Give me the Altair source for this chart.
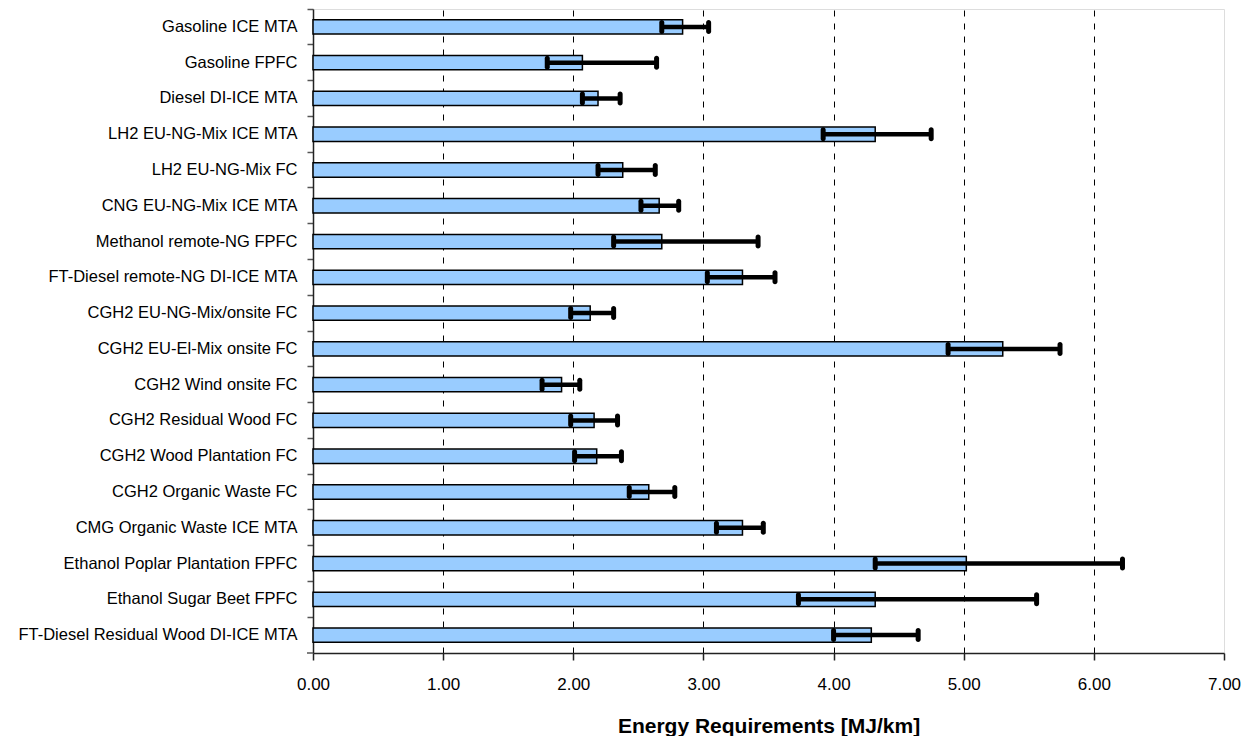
import altair as alt
import pandas as pd

categories = [
    "Gasoline ICE MTA",
    "Gasoline FPFC",
    "Diesel DI-ICE MTA",
    "LH2 EU-NG-Mix ICE MTA",
    "LH2 EU-NG-Mix FC",
    "CNG EU-NG-Mix ICE MTA",
    "Methanol remote-NG FPFC",
    "FT-Diesel remote-NG DI-ICE MTA",
    "CGH2 EU-NG-Mix/onsite FC",
    "CGH2 EU-El-Mix onsite FC",
    "CGH2 Wind onsite FC",
    "CGH2 Residual Wood FC",
    "CGH2 Wood Plantation FC",
    "CGH2 Organic Waste FC",
    "CMG Organic Waste ICE MTA",
    "Ethanol Poplar Plantation FPFC",
    "Ethanol Sugar Beet FPFC",
    "FT-Diesel Residual Wood DI-ICE MTA",
]
energy = [2.84, 2.07, 2.19, 4.32, 2.38, 2.66, 2.68, 3.30, 2.13, 5.30,
          1.91, 2.16, 2.18, 2.58, 3.30, 5.02, 4.32, 4.29]
err_low = [2.68, 1.80, 2.07, 3.92, 2.19, 2.52, 2.31, 3.03, 1.98, 4.88,
           1.76, 1.98, 2.01, 2.43, 3.10, 4.32, 3.73, 4.00]
err_high = [3.04, 2.64, 2.36, 4.75, 2.63, 2.81, 3.42, 3.55, 2.31, 5.74,
            2.05, 2.34, 2.37, 2.78, 3.46, 6.22, 5.56, 4.65]
x_ticks = [0, 1, 2, 3, 4, 5, 6, 7]

df = pd.DataFrame({"pathway": categories, "energy": energy,
                   "low": err_low, "high": err_high})

W, H = 911, 644
FONT = "Liberation Sans"

xscale = alt.Scale(domain=[0, 7], nice=False, zero=True)
yscale = alt.Scale(paddingInner=0, paddingOuter=0)

y_enc = alt.Y(
    "pathway:N", sort=categories, scale=yscale, title=None,
    axis=alt.Axis(bandPosition=0, tickSize=6, tickColor="#555", tickWidth=1.5,
                  domainColor="#222", domainWidth=1.5, labelPadding=10,
                  labelFont=FONT, labelFontSize=16.5, labelColor="black",
                  labelLimit=400, grid=False),
)

x_axis = alt.Axis(
    values=x_ticks, format=".2f", tickSize=7, tickColor="#222", tickWidth=1.5,
    domainColor="#222", domainWidth=1.5, labelPadding=16, labelFlush=False,
    labelFont=FONT, labelFontSize=17, labelColor="black",
    title="Energy Requirements [MJ/km]", titleFont=FONT, titleFontSize=21,
    titleFontWeight="bold", titleColor="black", titlePadding=23,
    grid=True, gridColor="black", gridDash=[6, 7], gridWidth=1,
    gridOpacity=alt.condition("datum.value == 0 || datum.value == 7",
                              alt.value(0), alt.value(1)),
)

base = alt.Chart(df)

bars = base.mark_bar(
    fill="#99CCFF", stroke="black", strokeWidth=1.5,
    height=alt.RelativeBandSize(0.4),
).encode(
    x=alt.X("energy:Q", scale=xscale, axis=x_axis),
    y=y_enc,
)

err = base.mark_rule(color="black", strokeWidth=4.5).encode(
    x=alt.X("low:Q", scale=xscale),
    x2="high:Q",
    y=alt.Y("pathway:N", sort=categories),
)

cap_low = base.mark_tick(color="black", thickness=5, size=14, cornerRadius=2.5,
                         opacity=1).encode(
    x=alt.X("low:Q", scale=xscale),
    y=alt.Y("pathway:N", sort=categories),
)
cap_high = base.mark_tick(color="black", thickness=5, size=14, cornerRadius=2.5,
                          opacity=1).encode(
    x=alt.X("high:Q", scale=xscale),
    y=alt.Y("pathway:N", sort=categories),
)

bottom_tick = alt.Chart(pd.DataFrame({"a": [0]})).mark_rule(
    color="#555", strokeWidth=1.5
).encode(x=alt.value(-6), x2=alt.value(0), y=alt.value(H))

chart = alt.layer(bars, err, cap_low, cap_high, bottom_tick).properties(
    width=W, height=H,
    padding={"left": 9, "top": 0, "right": 0, "bottom": 0},
).configure_view(
    stroke="#888", strokeWidth=2
).configure(background="white")

chart.save("out.html", embed_options={"renderer": "svg", "actions": False})
